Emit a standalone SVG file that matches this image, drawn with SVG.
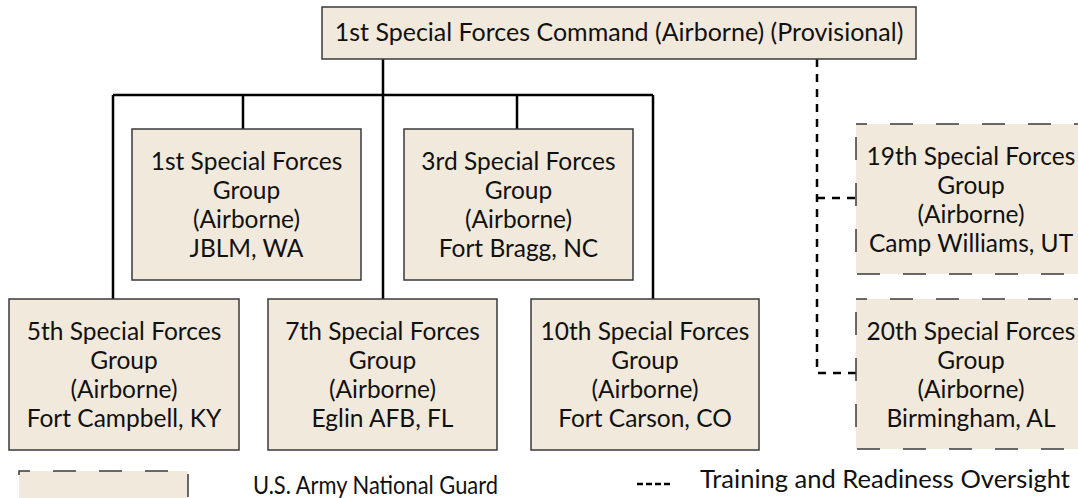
<svg xmlns="http://www.w3.org/2000/svg" width="1078" height="498" viewBox="0 0 1078 498">
<style>
.box{fill:#F1E9DB;stroke:#3a3a3a;stroke-width:1.5}
.ng{fill:#F1E9DB;stroke:#3a3a3a;stroke-width:1.5;stroke-dasharray:23 23;stroke-dashoffset:12}
text{font-family:Lato,"Open Sans","Liberation Sans",sans-serif;font-size:24.5px;fill:#111;text-anchor:middle}
.lg{text-anchor:start}
.solid{fill:none;stroke:#000;stroke-width:2.5}
.dash{fill:none;stroke:#000;stroke-width:2.5;stroke-dasharray:8 7}
</style>
<rect width="1078" height="498" fill="#fff"/>
<g id="connectors">
<path class="solid" d="M383 59V95M113 95H653M113 95V299M243 95V129M383 95V299M517 95V129M653 95V299"/>
<path class="dash" d="M817 59V373H856M817 198H856"/>
</g>
<g id="cmd">
<rect class="box" x="322" y="7" width="594" height="52"/>
<text x="619" y="41" style="font-size:25px">1st Special Forces Command (Airborne) (Provisional)</text>
</g>
<g id="g1">
<rect class="box" x="132" y="129" width="229" height="151"/>
<text x="246.5" y="170">1st Special Forces</text><text x="246.5" y="199">Group</text><text x="246.5" y="228">(Airborne)</text><text x="246.5" y="257">JBLM, WA</text>
</g>
<g id="g3">
<rect class="box" x="404" y="129" width="229" height="151"/>
<text x="518.5" y="170">3rd Special Forces</text><text x="518.5" y="199">Group</text><text x="518.5" y="228">(Airborne)</text><text x="518.5" y="257">Fort Bragg, NC</text>
</g>
<g id="g5">
<rect class="box" x="9" y="299" width="230" height="151"/>
<text x="124" y="340">5th Special Forces</text><text x="124" y="369">Group</text><text x="124" y="398">(Airborne)</text><text x="124" y="427">Fort Campbell, KY</text>
</g>
<g id="g7">
<rect class="box" x="268" y="299" width="229" height="151"/>
<text x="382.5" y="340">7th Special Forces</text><text x="382.5" y="369">Group</text><text x="382.5" y="398">(Airborne)</text><text x="382.5" y="427">Eglin AFB, FL</text>
</g>
<g id="g10">
<rect class="box" x="531" y="299" width="228" height="151"/>
<text x="645" y="340">10th Special Forces</text><text x="645" y="369">Group</text><text x="645" y="398">(Airborne)</text><text x="645" y="427">Fort Carson, CO</text>
</g>
<g id="g19">
<rect class="ng" x="856" y="124" width="230" height="150"/>
<text x="971" y="165">19th Special Forces</text><text x="971" y="194">Group</text><text x="971" y="223">(Airborne)</text><text x="971" y="252">Camp Williams, UT</text>
</g>
<g id="g20">
<rect class="ng" x="856" y="299" width="230" height="150"/>
<text x="971" y="340">20th Special Forces</text><text x="971" y="369">Group</text><text x="971" y="398">(Airborne)</text><text x="971" y="427">Birmingham, AL</text>
</g>
<g id="legend">
<rect class="ng" x="19" y="471" width="169" height="34"/>
<text class="lg" x="253" y="494" textLength="245" lengthAdjust="spacingAndGlyphs">U.S. Army National Guard</text>
<path d="M637 484H670" stroke="#000" stroke-width="2.5" stroke-dasharray="6 3"/>
<text class="lg" x="700" y="488" textLength="370" lengthAdjust="spacingAndGlyphs">Training and Readiness Oversight</text>
</g>
</svg>
